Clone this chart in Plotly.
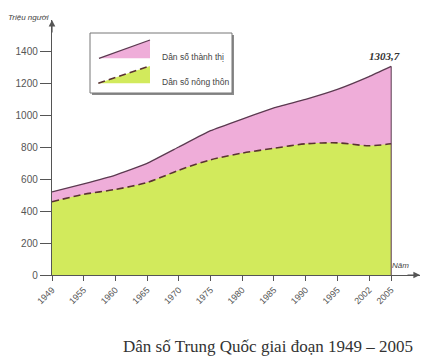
import plotly.graph_objects as go

# ---- data ----
years = ["1949", "1955", "1960", "1965", "1970", "1975", "1980", "1985", "1990", "1995", "2002", "2005"]
total_pop = [520, 570, 625, 698, 800, 902, 975, 1045, 1098, 1160, 1240, 1303.7]   # triệu người
rural_pop = [458, 504, 535, 578, 655, 720, 762, 792, 820, 826, 808, 820]
top_label = "1303,7"

# ---- layout helpers ----
# tick slots: equal spacing, last year closer (as drawn in the reference)
xpos = list(range(len(years) - 1)) + [len(years) - 2 + 0.7]

W, H = 426, 360
L, R, T, B = 52, 6, 20, 85
PW, PH = W - L - R, H - T - B
def px(x):
    return (x - L) / PW
def py(y):
    return (H - B - y) / PH

PINK = "#EFADD9"
GREEN = "#D2EA5C"
LINE_TOP = "#5B3A50"
LINE_RURAL = "#5A3232"
AXIS = "#555555"
FONT = "Liberation Sans Narrow, Liberation Sans, Arial"

fig = go.Figure()
fig.add_trace(go.Scatter(
    x=xpos, y=total_pop, mode="lines", fill="tozeroy", fillcolor=PINK,
    line=dict(color=LINE_TOP, width=1.3, shape="spline", smoothing=0.3),
    name="Dân số thành thị", showlegend=False, hoverinfo="skip"))
fig.add_trace(go.Scatter(
    x=xpos, y=rural_pop, mode="lines", fill="tozeroy", fillcolor=GREEN,
    line=dict(color=LINE_RURAL, width=1.6, dash="7px,4px", shape="spline", smoothing=0.8),
    name="Dân số nông thôn", showlegend=False, hoverinfo="skip"))

shapes = []
# right edge of the area at the last year
shapes.append(dict(type="line", xref="x", yref="y", x0=xpos[-1], x1=xpos[-1], y0=0, y1=total_pop[-1],
                   line=dict(color=LINE_TOP, width=1)))
# legend box with shadow
shapes.append(dict(type="rect", xref="paper", yref="paper", x0=px(92), x1=px(234), y0=py(95), y1=py(35),
                   line=dict(width=0), fillcolor="#8a8a8a"))
shapes.append(dict(type="rect", xref="paper", yref="paper", x0=px(90), x1=px(232), y0=py(93), y1=py(33),
                   line=dict(color="#777777", width=1), fillcolor="white"))
def tri(pts):
    return "M " + " L ".join(f"{px(a)},{py(b)}" for a, b in pts) + " Z"
shapes.append(dict(type="path", xref="paper", yref="paper", path=tri([(99, 58.3), (150, 40), (150, 58.3)]),
                   fillcolor=PINK, line=dict(width=0)))
shapes.append(dict(type="line", xref="paper", yref="paper", x0=px(99), y0=py(58.3), x1=px(150), y1=py(40),
                   line=dict(color=LINE_TOP, width=1.3)))
shapes.append(dict(type="path", xref="paper", yref="paper", path=tri([(98.3, 83.3), (150, 66), (150, 83.3)]),
                   fillcolor=GREEN, line=dict(width=0)))
shapes.append(dict(type="line", xref="paper", yref="paper", x0=px(98.3), y0=py(83.3), x1=px(150), y1=py(66),
                   line=dict(color=LINE_RURAL, width=1.6, dash="7px,4px")))

annotations = [
    dict(xref="paper", yref="paper", x=px(160), y=py(57), text="Dân số thành thị", showarrow=False,
         xanchor="left", yanchor="middle", font=dict(family=FONT, size=8.5, color="#444")),
    dict(xref="paper", yref="paper", x=px(160), y=py(82), text="Dân số nông thôn", showarrow=False,
         xanchor="left", yanchor="middle", font=dict(family=FONT, size=8.5, color="#444")),
    dict(xref="x", yref="y", x=xpos[-1], y=total_pop[-1], text=f"<b><i>{top_label}</i></b>", showarrow=False,
         xanchor="center", yanchor="bottom", xshift=-7, yshift=2,
         font=dict(family="Liberation Serif", size=11, color="#333")),
    dict(xref="paper", yref="paper", x=px(28), y=py(17), text="<i>Triệu người</i>", showarrow=False,
         xanchor="center", yanchor="middle", font=dict(family=FONT, size=8, color="#444")),
    dict(xref="paper", yref="paper", x=px(400), y=py(265), text="<i>Năm</i>", showarrow=False,
         xanchor="center", yanchor="middle", font=dict(family=FONT, size=8, color="#444")),
    dict(xref="paper", yref="paper", x=px(268), y=py(346), text="Dân số Trung Quốc giai đoạn 1949 – 2005",
         showarrow=False, xanchor="center", yanchor="middle",
         font=dict(family="Liberation Serif", size=17, color="#333")),
    # axis arrowheads
    dict(xref="paper", yref="paper", x=0, y=1, ax=0, ay=14, text="", showarrow=True,
         arrowhead=2, arrowsize=1.1, arrowwidth=1.2, arrowcolor=AXIS),
    dict(xref="paper", yref="paper", x=1, y=0, ax=-14, ay=0, text="", showarrow=True,
         arrowhead=2, arrowsize=1.1, arrowwidth=1.2, arrowcolor=AXIS),
]

fig.update_layout(
    width=W, height=H,
    margin=dict(l=L, r=R, t=T, b=B),
    paper_bgcolor="white", plot_bgcolor="white",
    shapes=shapes, annotations=annotations,
    xaxis=dict(range=[0, (W - R - L) / ((369 - 52) / 10)], tickmode="array", tickvals=xpos, ticktext=years,
               tickangle=-45, ticks="outside", ticklen=5, tickcolor=AXIS, showgrid=False, zeroline=False,
               showline=True, linecolor=AXIS, linewidth=1.2,
               tickfont=dict(family=FONT, size=9, color="#555")),
    yaxis=dict(range=[0, 1594], tickvals=[0, 200, 400, 600, 800, 1000, 1200, 1400],
               ticks="outside", ticklen=11, tickcolor=AXIS, showgrid=False, zeroline=False,
               showline=True, linecolor=AXIS, linewidth=1.2,
               tickfont=dict(family=FONT, size=10, color="#555")),
)

fig.write_html("out.html", config={"displayModeBar": False, "staticPlot": True},
               post_script="document.body.style.margin='0';")
